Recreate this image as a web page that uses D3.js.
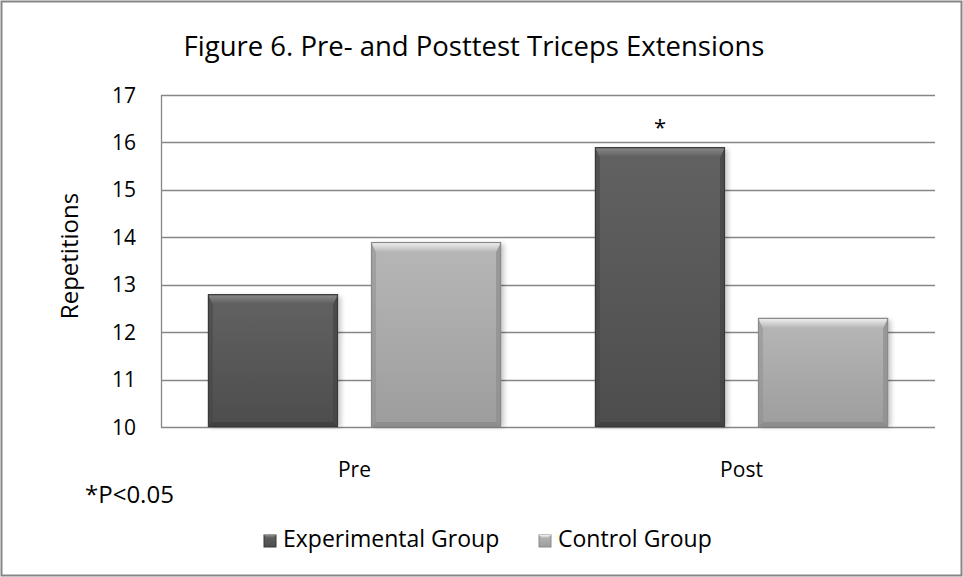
<!DOCTYPE html>
<html><head><meta charset="utf-8">
<script src="https://cdn.jsdelivr.net/npm/d3@7/dist/d3.min.js"></script>
<style>body{margin:0;background:#fff}svg{display:block}text{font-family:"Open Sans",Lato,sans-serif;fill:#000}</style>
</head><body><svg id="c" width="963" height="577"></svg>
<script>
const categories = ["Pre", "Post"];
const series = ["Experimental Group", "Control Group"];
const experimental = [12.8, 15.9];
const control = [13.9, 12.3];
const yTicks = [10, 11, 12, 13, 14, 15, 16, 17];
const significance = ["", "*"];
const title = "Figure 6. Pre- and Posttest Triceps Extensions";
const yTitle = "Repetitions";
const note = "*P<0.05";

const svg = d3.select("#c");
const W = 963, H = 577;
const plot = {l: 161, r: 935, t: 95, b: 427};

svg.append("rect").attr("x", 1.5).attr("y", 1.5).attr("width", W - 3).attr("height", H - 3)
  .attr("fill", "#fff").attr("stroke", "#868686").attr("stroke-width", 2);

const defs = svg.append("defs");
function grad(id, stops, vertical = true) {
  const g = defs.append("linearGradient").attr("id", id)
    .attr("x1", 0).attr("y1", 0).attr("x2", vertical ? 0 : 1).attr("y2", vertical ? 1 : 0);
  stops.forEach(s => g.append("stop").attr("offset", s[0]).attr("stop-color", s[1]));
}
const styles = {
  "Experimental Group": {body: ["#626262", "#4d4d4d"], top: ["#8c8c8c", "#5e5e5e"], side: "#454545", bottom: "#3e3e3e", stroke: "#383838"},
  "Control Group": {body: ["#b7b7b7", "#9d9d9d"], top: ["#f4f4f4", "#b5b5b5"], side: "#8f8f8f", bottom: "#8a8a8a", stroke: "#8a8a8a"}
};
series.forEach((s, i) => {
  const st = styles[s];
  grad("body" + i, [[0, st.body[0]], [1, st.body[1]]]);
  grad("top" + i, [[0, st.top[0]], [1, st.top[1]]]);
});
const shadowF = defs.append("filter").attr("id", "sh").attr("x", "-20%").attr("y", "-20%").attr("width", "140%").attr("height", "140%");
shadowF.append("feGaussianBlur").attr("stdDeviation", 2.5);

const y = d3.scaleLinear().domain([10, 17]).range([plot.b, plot.t]);
const x0 = d3.scaleBand().domain(categories).range([plot.l, plot.r]).padding(0);
const x1 = d3.scaleBand().domain(series).range([0, x0.bandwidth()]).paddingInner(0.2025).paddingOuter(0.288);

// gridlines
svg.append("g").selectAll("line").data(yTicks).join("line")
  .attr("x1", plot.l).attr("x2", plot.r).attr("y1", d => Math.round(y(d)) + 0.5).attr("y2", d => Math.round(y(d)) + 0.5)
  .attr("stroke", "#868686").attr("stroke-width", 1.3);
svg.append("line").attr("x1", plot.l + 0.5).attr("x2", plot.l + 0.5).attr("y1", plot.t).attr("y2", plot.b + 0.5)
  .attr("stroke", "#868686").attr("stroke-width", 1.3);

// y tick labels
svg.append("g").selectAll("text").data(yTicks).join("text")
  .attr("x", 136).attr("y", d => y(d)).attr("dy", "0.36em").attr("text-anchor", "end")
  .attr("font-size", 21).text(d => d);

svg.append("text").attr("transform", `translate(78,${(plot.t + plot.b) / 2 - 5}) rotate(-90)`)
  .attr("text-anchor", "middle").attr("font-size", 24).text(yTitle);

// bars
const data = [];
categories.forEach((c, ci) => {
  data.push({cat: c, ser: series[0], si: 0, v: experimental[ci], sig: significance[ci]});
  data.push({cat: c, ser: series[1], si: 1, v: control[ci], sig: ""});
});
const bars = svg.append("g").selectAll("g").data(data).join("g");
function bevelBar(g, x, yTop, w, h, si, bt = 10, bs = 5) {
  const st = styles[series[si]];
  g.append("rect").attr("x", x + 3).attr("y", yTop + 2).attr("width", w).attr("height", h - 2)
    .attr("fill", "#000").attr("opacity", 0.22).attr("filter", "url(#sh)");
  g.append("rect").attr("x", x).attr("y", yTop).attr("width", w).attr("height", h).attr("fill", `url(#body${si})`);
  g.append("path").attr("d", `M${x},${yTop}L${x + bs},${yTop + bt}L${x + bs},${yTop + h - bs}L${x},${yTop + h}Z`)
    .attr("fill", st.side).attr("opacity", 0.55);
  g.append("path").attr("d", `M${x + w},${yTop}L${x + w - bs},${yTop + bt}L${x + w - bs},${yTop + h - bs}L${x + w},${yTop + h}Z`)
    .attr("fill", st.side).attr("opacity", 0.75);
  g.append("path").attr("d", `M${x},${yTop + h}L${x + bs},${yTop + h - bs}L${x + w - bs},${yTop + h - bs}L${x + w},${yTop + h}Z`)
    .attr("fill", st.bottom).attr("opacity", 0.8);
  g.append("path").attr("d", `M${x},${yTop}L${x + w},${yTop}L${x + w - bs},${yTop + bt}L${x + bs},${yTop + bt}Z`)
    .attr("fill", `url(#top${si})`);
  g.append("rect").attr("x", x + 0.5).attr("y", yTop + 0.5).attr("width", w - 1).attr("height", h - 1)
    .attr("fill", "none").attr("stroke", st.stroke).attr("stroke-width", 1.2);
}
bars.each(function(d) {
  const g = d3.select(this);
  const x = x0(d.cat) + x1(d.ser);
  const yt = y(d.v);
  bevelBar(g, x, yt, x1.bandwidth(), y(10) - yt, d.si);
  if (d.sig) g.append("text").attr("x", x + x1.bandwidth() / 2).attr("y", yt - 12)
    .attr("text-anchor", "middle").attr("font-size", 22).text(d.sig);
});

// category labels
svg.append("g").selectAll("text").data(categories).join("text")
  .attr("x", d => x0(d) + x0.bandwidth() / 2).attr("y", 477).attr("text-anchor", "middle")
  .attr("font-size", 21).text(d => d);

svg.append("text").attr("x", 474).attr("y", 56).attr("text-anchor", "middle").attr("font-size", 27.5).text(title);
svg.append("text").attr("x", 85).attr("y", 503).attr("font-size", 24).text(note);

// legend
const legX = [264, 539];
const leg = svg.append("g").selectAll("g").data(series).join("g");
leg.each(function(s, i) {
  const g = d3.select(this);
  const st = styles[s];
  g.append("rect").attr("x", legX[i]).attr("y", 535).attr("width", 12).attr("height", 12).attr("fill", `url(#body${i})`)
    .attr("stroke", st.stroke);
  g.append("path").attr("d", `M${legX[i]},535L${legX[i] + 12},535L${legX[i] + 9},538L${legX[i] + 3},538Z`).attr("fill", `url(#top${i})`);
  g.append("text").attr("x", legX[i] + 19).attr("y", 547).attr("font-size", 23).text(s);
});
</script></body></html>
